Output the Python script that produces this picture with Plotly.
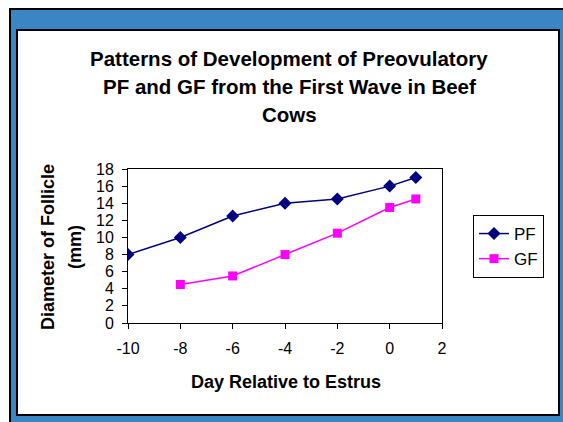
import plotly.graph_objects as go

# ---- data ----
pf_days = [-10, -8, -6, -4, -2, 0, 1]
pf_diam = [8, 10, 12.5, 14, 14.5, 16, 17]
gf_days = [-8, -6, -4, -2, 0, 1]
gf_diam = [4.5, 5.5, 8, 10.5, 13.5, 14.5]
x_ticks = [-10, -8, -6, -4, -2, 0, 2]
x_tick_labels = ["-10", "-8", "-6", "-4", "-2", "0", "2"]
y_ticks = [0, 2, 4, 6, 8, 10, 12, 14, 16, 18]
title_lines = ["Patterns of Development of Preovulatory",
               "PF and GF from the First Wave in Beef",
               "Cows"]
x_title = "Day Relative to Estrus"
y_title_lines = ["Diameter of Follicle", "(mm)"]

W, H = 563, 422
L, R, T, B = 128, 442, 169, 323  # plot area in pixels

def px(x):
    return (x - L) / (R - L)

def py(y):
    return (B - y) / (B - T)

FONT = "Liberation Sans"

fig = go.Figure()
fig.add_trace(go.Scatter(
    x=pf_days, y=pf_diam, name="PF", mode="lines+markers",
    line=dict(color="#000080", width=1.5),
    marker=dict(symbol="diamond", size=10, color="#000080"),
))
fig.add_trace(go.Scatter(
    x=gf_days, y=gf_diam, name="GF", mode="lines+markers",
    line=dict(color="#FF00FF", width=1.5),
    marker=dict(symbol="square", size=9, color="#FF00FF"),
))

shapes = [
    dict(type="rect", xref="paper", yref="paper", layer="below",
         x0=px(10), x1=px(575), y0=py(9), y1=py(430),
         fillcolor="#3a86c5", line=dict(color="black", width=2)),
    dict(type="rect", xref="paper", yref="paper", layer="below",
         x0=px(17), x1=px(559), y0=py(30), y1=py(415),
         fillcolor="white", line=dict(color="black", width=2)),
]

annotations = []
for txt, yc in zip(title_lines, [58, 86, 114]):
    annotations.append(dict(
        text="<b>%s</b>" % txt, xref="paper", yref="paper",
        x=px(289), y=py(yc), xanchor="center", yanchor="middle",
        showarrow=False, font=dict(family=FONT, size=20.5, color="black")))
annotations.append(dict(
    text="<b>%s</b>" % x_title, xref="paper", yref="paper",
    x=px(286), y=py(382), xanchor="center", yanchor="middle",
    showarrow=False, font=dict(family=FONT, size=18, color="black")))
for txt, xc in zip(y_title_lines, [48, 75]):
    annotations.append(dict(
        text="<b>%s</b>" % txt, xref="paper", yref="paper",
        x=px(xc), y=py(247), xanchor="center", yanchor="middle",
        textangle=-90, showarrow=False,
        font=dict(family=FONT, size=18, color="black")))

fig.update_layout(
    width=W, height=H,
    margin=dict(l=L, r=W - R, t=T, b=H - B, pad=0),
    paper_bgcolor="white", plot_bgcolor="white",
    font=dict(family=FONT, size=16, color="black"),
    showlegend=True,
    legend=dict(x=px(473), y=py(215), xanchor="left", yanchor="top",
                bordercolor="black", borderwidth=1, bgcolor="white",
                font=dict(family=FONT, size=17, color="black"),
                tracegroupgap=6),
    shapes=shapes, annotations=annotations,
    xaxis=dict(range=[-10, 2], tickmode="array",
               tickvals=x_ticks, ticktext=x_tick_labels,
               showgrid=False, zeroline=False, showline=True,
               linecolor="black", linewidth=1, mirror=True,
               ticks="outside", ticklen=5, tickcolor="black",
               ticklabelstandoff=6,
               tickfont=dict(family=FONT, size=16, color="black")),
    yaxis=dict(range=[0, 18], tickmode="array",
               tickvals=y_ticks,
               showgrid=False, zeroline=False, showline=True,
               linecolor="black", linewidth=1, mirror=True,
               ticks="outside", ticklen=5, tickcolor="black",
               ticklabelstandoff=5,
               tickfont=dict(family=FONT, size=16, color="black")),
)

fig.write_html("out.html", config={"displayModeBar": False},
               post_script="document.body.style.margin='0';document.body.style.overflow='hidden';")
